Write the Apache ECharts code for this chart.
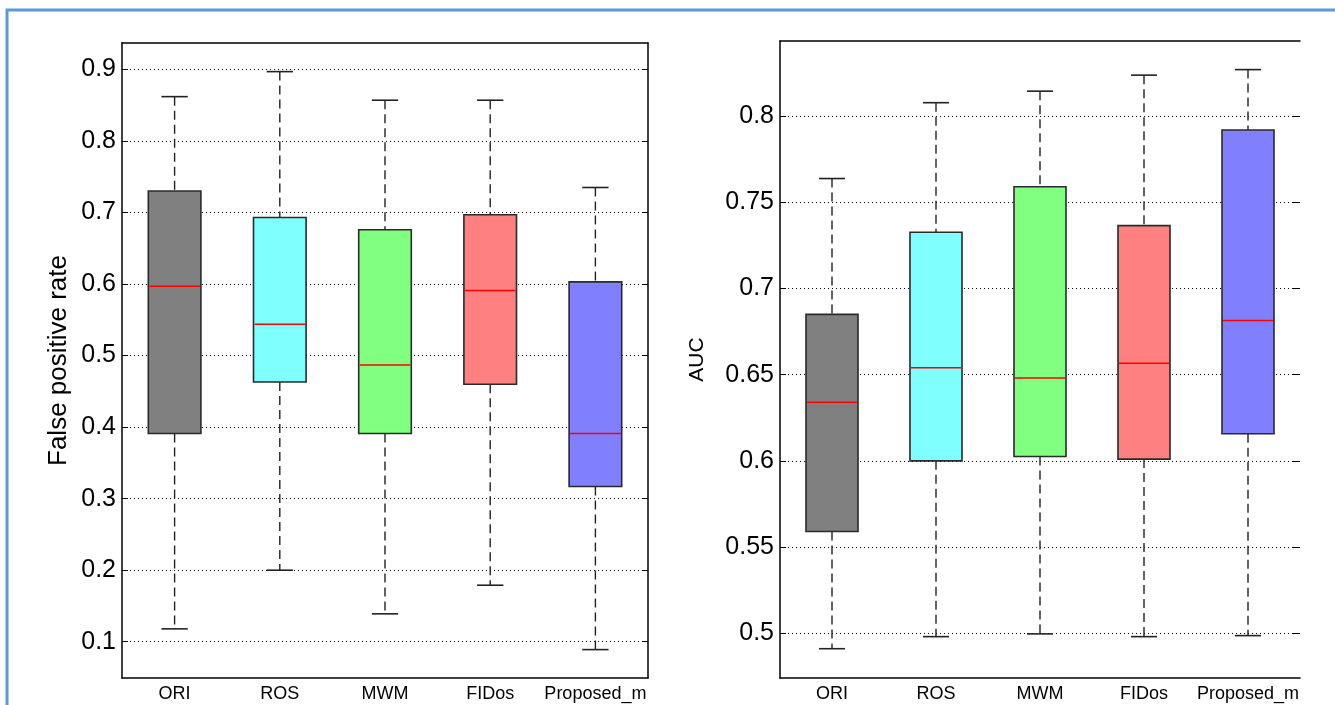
<!DOCTYPE html>
<html>
<head>
<meta charset="utf-8">
<script src="https://cdn.jsdelivr.net/npm/echarts@6/dist/echarts.min.js"></script>
<style>
html,body{margin:0;padding:0;background:#fff;}
#chart{width:1335px;height:705px;}
</style>
</head>
<body>
<div id="chart"></div>
<script>
const categories = ['ORI', 'ROS', 'MWM', 'FIDos', 'Proposed_m'];

// Left panel: False positive rate
const fprLow  = [0.118, 0.200, 0.139, 0.179, 0.089];
const fprQ1   = [0.391, 0.463, 0.391, 0.460, 0.317];
const fprMed  = [0.597, 0.544, 0.487, 0.591, 0.391];
const fprQ3   = [0.730, 0.693, 0.676, 0.697, 0.603];
const fprHigh = [0.862, 0.897, 0.857, 0.857, 0.735];

// Right panel: AUC
const aucLow  = [0.491, 0.498, 0.4996, 0.498, 0.4986];
const aucQ1   = [0.559, 0.600, 0.6025, 0.601, 0.6157];
const aucMed  = [0.634, 0.654, 0.648, 0.6566, 0.6814];
const aucQ3   = [0.685, 0.7326, 0.759, 0.7365, 0.792];
const aucHigh = [0.7638, 0.8078, 0.8145, 0.8238, 0.827];

const fprTicks = [0.1, 0.2, 0.3, 0.4, 0.5, 0.6, 0.7, 0.8, 0.9];
const aucTicks = [0.5, 0.55, 0.6, 0.65, 0.7, 0.75, 0.8];

const boxColors = ['#808080', '#80ffff', '#80ff80', '#ff8080', '#8080ff'];

const FONT = 'Liberation Sans, Arial, sans-serif';

function rows(low, q1, med, q3, high) {
  return categories.map((c, i) => [i, low[i], q1[i], med[i], q3[i], high[i]]);
}

function renderBox(params, api) {
  const idx = api.value(0);
  const pLow = api.coord([idx, api.value(1)]);
  const pQ1 = api.coord([idx, api.value(2)]);
  const pMed = api.coord([idx, api.value(3)]);
  const pQ3 = api.coord([idx, api.value(4)]);
  const pHigh = api.coord([idx, api.value(5)]);
  const band = api.size([1, 0])[0];
  const bw = band * 0.5;
  const cw = bw * 0.5;
  const cx = pMed[0];
  const dashStyle = { stroke: '#222', lineWidth: 1.4, lineDash: [9, 5] };
  const solid = { stroke: '#222', lineWidth: 1.6 };
  return {
    type: 'group',
    children: [
      { type: 'line', shape: { x1: cx, y1: pHigh[1], x2: cx, y2: pQ3[1] }, style: dashStyle },
      { type: 'line', shape: { x1: cx, y1: pQ1[1], x2: cx, y2: pLow[1] }, style: dashStyle },
      { type: 'line', shape: { x1: cx - cw / 2, y1: pHigh[1], x2: cx + cw / 2, y2: pHigh[1] }, style: solid },
      { type: 'line', shape: { x1: cx - cw / 2, y1: pLow[1], x2: cx + cw / 2, y2: pLow[1] }, style: solid },
      { type: 'rect', shape: { x: cx - bw / 2, y: pQ3[1], width: bw, height: pQ1[1] - pQ3[1] },
        style: { fill: boxColors[idx], stroke: '#2a2a2a', lineWidth: 1.6 } },
      { type: 'line', shape: { x1: cx - bw / 2 + 1, y1: pMed[1], x2: cx + bw / 2 - 1, y2: pMed[1] },
        style: { stroke: '#ff0000', lineWidth: 1.5 } }
    ]
  };
}

function fmt(v) {
  return String(Math.round(v * 100) / 100);
}

const gridLine = { show: true, lineStyle: { color: '#000', width: 1, type: [1, 3] } };

const chart = echarts.init(document.getElementById('chart'), null, { renderer: 'canvas' });

const option = {
  backgroundColor: '#ffffff',
  animation: false,
  graphic: [
    { type: 'rect', shape: { x: 7, y: 10, width: 1400, height: 800 },
      style: { fill: 'none', stroke: '#5b9bd5', lineWidth: 3 }, z: 100 }
  ],
  grid: [
    { left: 122, right: 1335 - 648, top: 43, bottom: 705 - 678, containLabel: false },
    { left: 780, right: 35, top: 41, bottom: 705 - 678, containLabel: false }
  ],
  xAxis: [
    { type: 'category', gridIndex: 0, data: categories, position: 'bottom',
      axisLine: { show: true, lineStyle: { color: '#000', width: 1.5 } },
      axisTick: { show: false },
      axisLabel: { color: '#000', fontSize: 18, fontFamily: FONT, margin: 7, interval: 0 },
      splitLine: { show: false } },
    { type: 'category', gridIndex: 0, data: categories, position: 'top',
      axisLine: { show: true, onZero: false, lineStyle: { color: '#000', width: 1.5 } },
      axisTick: { show: false }, axisLabel: { show: false } },
    { type: 'category', gridIndex: 1, data: categories, position: 'bottom',
      axisLine: { show: true, lineStyle: { color: '#000', width: 1.5 } },
      axisTick: { show: false },
      axisLabel: { color: '#000', fontSize: 18, fontFamily: FONT, margin: 7, interval: 0 },
      splitLine: { show: false } },
    { type: 'category', gridIndex: 1, data: categories, position: 'top',
      axisLine: { show: true, onZero: false, lineStyle: { color: '#000', width: 1.5 } },
      axisTick: { show: false }, axisLabel: { show: false } }
  ],
  yAxis: [
    { type: 'value', gridIndex: 0, position: 'left', min: 0.0493, max: 0.937,
      name: 'False positive rate', nameLocation: 'middle', nameGap: 50,
      nameTextStyle: { color: '#000', fontSize: 26, fontFamily: FONT },
      axisLine: { show: true, onZero: false, lineStyle: { color: '#000', width: 1.5 } },
      axisTick: { show: true, inside: true, length: 6, customValues: fprTicks, lineStyle: { color: '#000' } },
      axisLabel: { show: true, customValues: fprTicks, formatter: fmt, color: '#000', fontSize: 25, fontFamily: FONT, margin: 6 },
      splitLine: gridLine },
    { type: 'value', gridIndex: 0, position: 'right', min: 0.0493, max: 0.937,
      axisLine: { show: true, onZero: false, lineStyle: { color: '#000', width: 1.5 } },
      axisTick: { show: true, inside: true, length: 6, customValues: fprTicks, lineStyle: { color: '#000' } },
      axisLabel: { show: false, customValues: fprTicks },
      splitLine: { show: false } },
    { type: 'value', gridIndex: 1, position: 'left', min: 0.474, max: 0.8436,
      name: 'AUC', nameLocation: 'middle', nameGap: 72,
      nameTextStyle: { color: '#000', fontSize: 21, fontFamily: FONT },
      axisLine: { show: true, onZero: false, lineStyle: { color: '#000', width: 1.5 } },
      axisTick: { show: true, inside: true, length: 6, customValues: aucTicks, lineStyle: { color: '#000' } },
      axisLabel: { show: true, customValues: aucTicks, formatter: fmt, color: '#000', fontSize: 25, fontFamily: FONT, margin: 6 },
      splitLine: gridLine },
    { type: 'value', gridIndex: 1, position: 'right', min: 0.474, max: 0.8436,
      axisLine: { show: false },
      axisTick: { show: true, inside: true, length: 7, customValues: aucTicks, lineStyle: { color: '#000' } },
      axisLabel: { show: false, customValues: aucTicks },
      splitLine: { show: false } }
  ],
  series: [
    { type: 'custom', xAxisIndex: 0, yAxisIndex: 0, renderItem: renderBox,
      encode: { x: 0, y: [1, 2, 3, 4, 5] }, data: rows(fprLow, fprQ1, fprMed, fprQ3, fprHigh), z: 10 },
    { type: 'custom', xAxisIndex: 2, yAxisIndex: 2, renderItem: renderBox,
      encode: { x: 0, y: [1, 2, 3, 4, 5] }, data: rows(aucLow, aucQ1, aucMed, aucQ3, aucHigh), z: 10 }
  ]
};

chart.setOption(option);
</script>
</body>
</html>
